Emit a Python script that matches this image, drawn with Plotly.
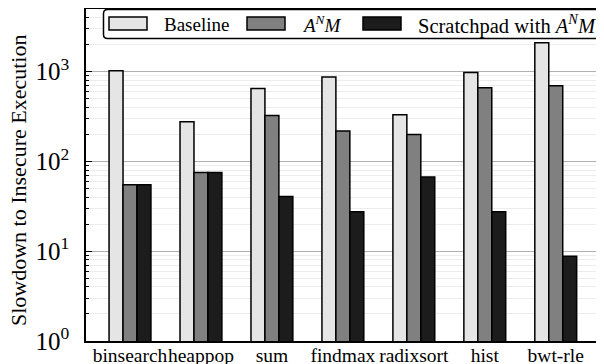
import plotly.graph_objects as go

categories = ["binsearch", "heappop", "sum", "findmax", "radixsort", "hist", "bwt-rle"]
baseline = [1020, 277, 650, 870, 330, 980, 2090]
anm = [55, 75, 325, 218, 199, 660, 695]
scratchpad = [55, 75, 40.6, 27.5, 67, 27.5, 8.8]
series_names = ["Baseline", "<i>A</i><sup><i>N</i></sup><i>M</i>", "Scratchpad with <i>A</i><sup><i>N</i></sup><i>M</i>"]
series_colors = ["#e5e5e5", "#808080", "#1c1c1c"]
ytick_vals = [1, 10, 100, 1000]
ytick_text = ["10<sup>0</sup>", "10<sup>1</sup>", "10<sup>2</sup>", "10<sup>3</sup>"]

OFF = 8  # default page body margin
W, H = 604 - OFF, 364 - OFF
ML, MR, MT, MB = 78, 0, 1, 23
PW, PH = W - ML - MR, H - MT - MB
FONT = "Liberation Serif"

fig = go.Figure()
for name, vals, col in zip(series_names, [baseline, anm, scratchpad], series_colors):
    fig.add_trace(go.Bar(x=categories, y=vals, name=name,
                         marker=dict(color=col, line=dict(color="black", width=1.5)),
                         showlegend=False))

def px_x(p):
    return (p - OFF - ML) / PW

def px_y(p):
    return (H - MB - (p - OFF)) / PH

shapes = []
annotations = []
x0, x1, y0, y1, r = 103.5, 612, 9.5, 38.5, 4
path = (f"M {px_x(x0+r)},{px_y(y0)} L {px_x(x1-r)},{px_y(y0)} "
        f"Q {px_x(x1)},{px_y(y0)} {px_x(x1)},{px_y(y0+r)} L {px_x(x1)},{px_y(y1-r)} "
        f"Q {px_x(x1)},{px_y(y1)} {px_x(x1-r)},{px_y(y1)} L {px_x(x0+r)},{px_y(y1)} "
        f"Q {px_x(x0)},{px_y(y1)} {px_x(x0)},{px_y(y1-r)} L {px_x(x0)},{px_y(y0+r)} "
        f"Q {px_x(x0)},{px_y(y0)} {px_x(x0+r)},{px_y(y0)} Z")
shapes.append(dict(type="path", xref="paper", yref="paper", path=path,
                   fillcolor="white", line=dict(color="black", width=1.5), layer="above"))
sw_x = [109, 247, 363]
tx_x = [162, 300, 416]
tx_size = [19, 19, 20.5]
for sx, tx, ts, name, col in zip(sw_x, tx_x, tx_size, series_names, series_colors):
    shapes.append(dict(type="rect", xref="paper", yref="paper",
                       x0=px_x(sx), x1=px_x(sx + 38), y0=px_y(30), y1=px_y(17),
                       fillcolor=col, line=dict(color="black", width=1.5), layer="above"))
    annotations.append(dict(xref="paper", yref="paper", x=px_x(tx), y=px_y(24),
                            xanchor="left", yanchor="middle", showarrow=False,
                            text=name, font=dict(family=FONT, size=ts, color="black")))

annotations.append(dict(xref="paper", yref="paper", x=px_x(18), y=px_y(181),
                        xanchor="center", yanchor="middle", showarrow=False, textangle=-90,
                        text="Slowdown to Insecure Execution",
                        font=dict(family=FONT, size=22, color="black")))

fig.update_layout(
    width=W, height=H,
    margin=dict(l=ML, r=MR, t=MT, b=MB, pad=0, autoexpand=False),
    paper_bgcolor="white", plot_bgcolor="white",
    barmode="group", bargap=0.41, bargroupgap=0,
    shapes=shapes, annotations=annotations,
    font=dict(family=FONT, color="black"),
    showlegend=False,
)
fig.update_xaxes(range=[-0.62, 6.68], showline=True, linecolor="black", linewidth=1.5,
                 mirror=True, ticks="", showgrid=False, tickangle=0, automargin=False,
                 ticklabelstandoff=-4,
                 tickfont=dict(family=FONT, size=19.5, color="black"))
fig.update_yaxes(type="log", range=[0, 332 / 89.8], showline=True, linecolor="black", linewidth=1.5,
                 mirror="ticks", ticks="inside", ticklen=6, tickcolor="black", tickwidth=1,
                 tickmode="array", tickvals=ytick_vals, ticktext=ytick_text, automargin=False,
                 showgrid=True, gridcolor="#b0b0b0", gridwidth=1, ticklabelstandoff=10,
                 tickfont=dict(family=FONT, size=25, color="black"),
                 minor=dict(dtick="D1", ticks="inside", ticklen=3.5, tickcolor="black",
                            showgrid=True, gridcolor="#ececec", gridwidth=1),
                 zeroline=False)

fig.write_html("out.html")
